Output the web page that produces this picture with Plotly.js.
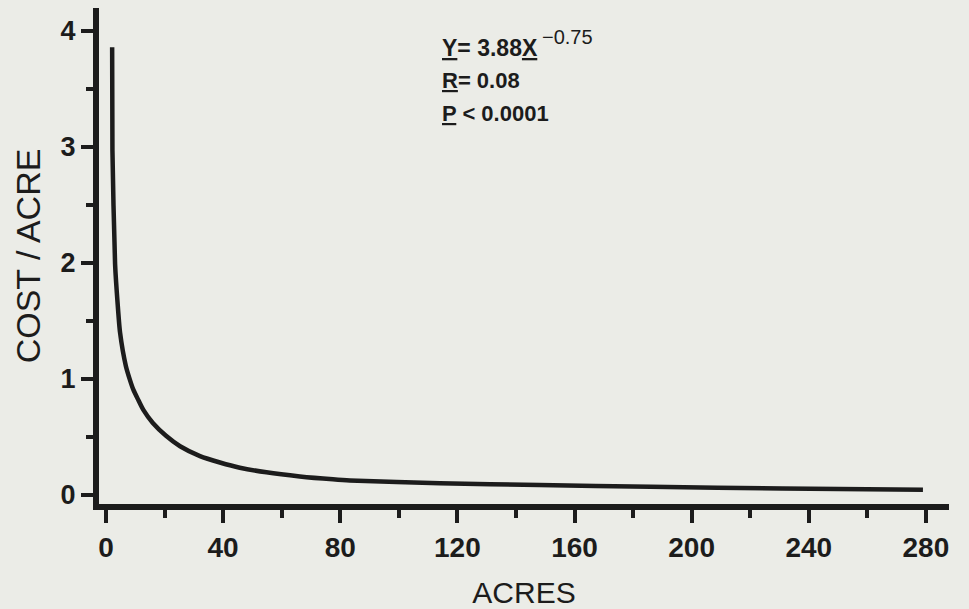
<!DOCTYPE html>
<html>
<head>
<meta charset="utf-8">
<script src="https://cdn.plot.ly/plotly-3.0.1.min.js"></script>
<style>
  html, body { margin: 0; padding: 0; background: #ebece7; }
  #chart { width: 969px; height: 609px; }
</style>
</head>
<body>
<div id="chart"></div>
<script>
// Values (ACRES vs COST / ACRE)
var acres = [2.1, 2.2, 3.1, 4.0, 4.8, 6.8, 8.2, 9.3, 11.0, 12.7, 16.0, 20.5, 25.3, 32.1, 38.9, 45.7, 54.8, 66.2, 77.5, 83.3, 114, 148, 186, 231, 279];
var costPerAcre = [3.86, 2.97, 1.99, 1.64, 1.40, 1.11, 0.99, 0.91, 0.82, 0.735, 0.62, 0.51, 0.42, 0.335, 0.28, 0.235, 0.195, 0.16, 0.135, 0.125, 0.10, 0.085, 0.07, 0.055, 0.045];

var xTicks = [0, 40, 80, 120, 160, 200, 240, 280];
var yTicks = [0, 1, 2, 3, 4];

var statLines = [
  "<u>Y</u>= 3.88<u>X</u>",
  "<u>R</u>= 0.08",
  "<u>P</u> < 0.0001"
];
var statSizes = [23, 22, 22];
var exponentText = "−0.75";

var ink = '#1c1c1c';
var bg = '#ebece7';

var trace = {
  x: acres,
  y: costPerAcre,
  type: 'scatter',
  mode: 'lines',
  line: { color: ink, width: 4.5, shape: 'spline', smoothing: 0.6 },
  hoverinfo: 'skip',
  showlegend: false
};

var statY = [3.85, 3.57, 3.29];
var annotations = statLines.map(function (t, i) {
  return {
    text: t,
    xref: 'x', yref: 'y',
    x: 114, y: statY[i],
    xanchor: 'left', yanchor: 'middle',
    showarrow: false,
    align: 'left',
    font: { family: 'Liberation Sans, Arial, sans-serif', size: statSizes[i], color: ink, weight: 'bold' }
  };
});
annotations.push({
  text: exponentText,
  xref: 'x', yref: 'y',
  x: 148.2, y: 3.95,
  xanchor: 'left', yanchor: 'middle',
  showarrow: false,
  font: { family: 'Liberation Sans, Arial, sans-serif', size: 20, color: ink }
});

var layout = {
  width: 969,
  height: 609,
  paper_bgcolor: bg,
  plot_bgcolor: bg,
  margin: { l: 99, r: 20, t: 8, b: 105 },
  showlegend: false,
  xaxis: {
    range: [-2.39, 287.9],
    tickmode: 'array',
    tickvals: xTicks,
    ticktext: xTicks.map(String),
    ticks: 'outside',
    ticklen: 13,
    tickwidth: 4,
    tickcolor: ink,
    minor: { dtick: 20, tick0: 0, ticks: 'outside', ticklen: 8, tickwidth: 4, tickcolor: ink, showgrid: false },
    showline: true,
    linewidth: 6,
    linecolor: ink,
    showgrid: false,
    zeroline: false,
    tickfont: { family: 'Liberation Sans, Arial, sans-serif', size: 28, color: ink, weight: 'bold' },
    title: { text: 'ACRES', font: { family: 'Liberation Sans, Arial, sans-serif', size: 30, color: ink }, standoff: 24 }
  },
  yaxis: {
    range: [-0.078, 4.198],
    tickmode: 'array',
    tickvals: yTicks,
    ticktext: yTicks.map(String),
    ticks: 'outside',
    ticklen: 12,
    tickwidth: 4,
    tickcolor: ink,
    minor: { dtick: 0.5, tick0: 0, ticks: 'outside', ticklen: 7, tickwidth: 4, tickcolor: ink, showgrid: false },
    showline: true,
    linewidth: 6,
    linecolor: ink,
    showgrid: false,
    zeroline: false,
    tickfont: { family: 'Liberation Sans, Arial, sans-serif', size: 27, color: ink, weight: 'bold' },
    title: { text: 'COST / ACRE', font: { family: 'Liberation Sans, Arial, sans-serif', size: 34, color: ink }, standoff: 12 }
  },
  annotations: annotations
};

Plotly.newPlot('chart', [trace], layout, { staticPlot: true, displayModeBar: false });
</script>
</body>
</html>
